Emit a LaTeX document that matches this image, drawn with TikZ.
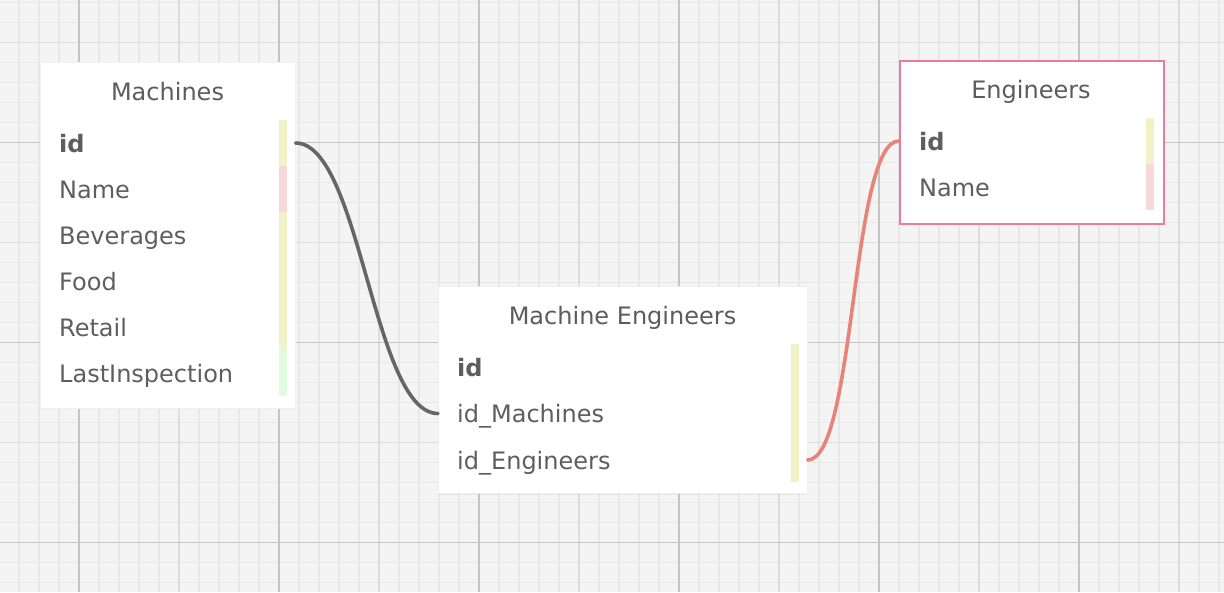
\documentclass[tikz,border=0pt]{standalone}
\usepackage{fontspec}
\setmainfont{DejaVu Sans}
\usetikzlibrary{shadows}
\definecolor{bg}{HTML}{F4F4F4}
\definecolor{gminor}{HTML}{E7E7E7}
\definecolor{gmed}{HTML}{DDDDDD}
\definecolor{gmajor}{HTML}{C4C4C4}
\definecolor{txt}{HTML}{5E5E5E}
\definecolor{ttl}{HTML}{5C5C5C}
\definecolor{barY}{HTML}{F1F2C8}
\definecolor{barP}{HTML}{F8D9D9}
\definecolor{barG}{HTML}{E0FCE0}
\definecolor{pinkborder}{HTML}{E97BA1}
\definecolor{connGray}{HTML}{666666}
\definecolor{connRed}{HTML}{E8837A}
\tikzset{
  tbl/.style={fill=white, draw=black!6, line width=0.6pt, inner sep=0pt, anchor=north west,
    drop shadow={opacity=0.10, shadow xshift=0pt, shadow yshift=-1.5pt}},
  tblpink/.style={fill=white, draw=pinkborder, line width=2.2pt, inner sep=0pt, anchor=north west},
  title/.style={inner sep=0pt, text height=18pt, text depth=0pt, text=ttl, font=\fontsize{24}{27}\selectfont},
  field/.style={inner sep=0pt, anchor=west, text height=18pt, text depth=0pt, text=txt, font=\fontsize{24}{27}\selectfont},
  keyfield/.style={field, font=\fontsize{24}{27}\selectfont\bfseries},
  conn/.style={line width=3.6pt, line cap=round},
}
\begin{document}
\begin{tikzpicture}[x=1pt, y=-1pt]
\useasboundingbox (0,0) rectangle (1224,592);
\fill[bg] (0,0) rectangle (1224,592);
\begin{scope}
\clip (0,0) rectangle (1224,592);
\foreach \x in {-1,19,...,1239} \draw[gminor, line width=1.8pt] (\x,0) -- (\x,592);
\foreach \y in {2.5,22.5,...,600} \draw[gminor, line width=1.8pt] (0,\y) -- (1224,\y);
\foreach \x in {179,379,...,1239} \draw[gmed, line width=1.8pt] (\x,0) -- (\x,592);
\foreach \y in {42.5,242.5,442.5} \draw[gmed, line width=1.8pt] (0,\y) -- (1224,\y);
\foreach \x in {79,279,...,1239} \draw[gmajor, line width=1.6pt] (\x,0) -- (\x,592);
\foreach \y in {142.5,342.5,542.5} \draw[gmajor, line width=1.6pt] (0,\y) -- (1224,\y);
\end{scope}

% Machines
\node[tbl, minimum width=255pt, minimum height=345.5pt] (machines) at (40,62) {};
\node[title] (machines-title) at (167.5,91.7) {Machines};
\fill[barY] (279,120) rectangle (287,166);
\fill[barP] (279,166) rectangle (287,212);
\fill[barY] (279,212) rectangle (287,350);
\fill[barG] (279,350) rectangle (287,396);
\node[keyfield] (m-id) at (59,143) {id};
\node[field] (m-name) at (59,189) {Name};
\node[field] (m-bev) at (59,235) {Beverages};
\node[field] (m-food) at (59,281) {Food};
\node[field] (m-retail) at (59,327) {Retail};
\node[field] (m-last) at (59,373) {LastInspection};

% Engineers
\node[tblpink, minimum width=264pt, minimum height=163pt] (engineers) at (899,59.5) {};
\node[title] (engineers-title) at (1031,89) {Engineers};
\fill[barY] (1146,118) rectangle (1154,164);
\fill[barP] (1146,164) rectangle (1154,210);
\node[keyfield] (e-id) at (919,141) {id};
\node[field] (e-name) at (919,187) {Name};

% Machine Engineers
\node[tbl, minimum width=369pt, minimum height=207pt] (me) at (438,286) {};
\node[title] (me-title) at (622.5,315) {Machine Engineers};
\fill[barY] (791,344) rectangle (799,482);
\node[keyfield] (me-id) at (457,367) {id};
\node[field] (me-idm) at (457,413.5) {id\_Machines};
\node[field] (me-ide) at (457,460) {id\_Engineers};

% connectors
\draw[conn, connGray] (machines.east |- m-id) .. controls +(65,0) and +(-65,0) .. (me.west |- me-idm);
\draw[conn, connRed] (me.east |- me-ide) .. controls +(48,0) and +(-48,0) .. (engineers.west |- e-id);
\end{tikzpicture}
\end{document}
